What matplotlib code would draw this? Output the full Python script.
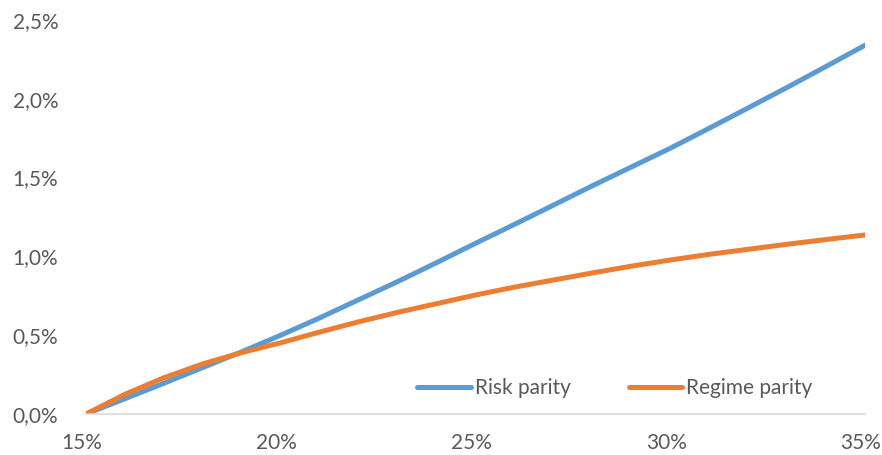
import matplotlib
matplotlib.use("Agg")
import matplotlib.pyplot as plt
from matplotlib.ticker import FuncFormatter
from matplotlib.transforms import ScaledTranslation

# volatility target (%) and expected excess return (%)
vol = [15, 16, 17, 18, 19, 20, 21, 22, 23, 24, 25, 26, 27, 28, 29, 30, 31, 32, 33, 34, 35]
risk_parity = [0.0, 0.097, 0.195, 0.295, 0.395, 0.50, 0.61, 0.725, 0.84, 0.96, 1.083,
               1.203, 1.325, 1.448, 1.567, 1.686, 1.813, 1.942, 2.072, 2.205, 2.34]
regime_parity = [0.0, 0.125, 0.23, 0.318, 0.39, 0.452, 0.52, 0.585, 0.645, 0.70, 0.755,
                 0.805, 0.85, 0.895, 0.938, 0.977, 1.013, 1.045, 1.077, 1.107, 1.136]

plt.rcParams["font.family"] = ["Lato", "DejaVu Sans"]

fig = plt.figure(figsize=(8.82, 4.55), dpi=100)
ax = fig.add_axes([0.0975, 0.0901, 0.8832, 0.866])

ax.plot(vol, risk_parity, color="#5B9BD5", lw=3.6, solid_capstyle="round",
        solid_joinstyle="round", label="Risk parity")
ax.plot(vol, regime_parity, color="#ED7D31", lw=3.6, solid_capstyle="round",
        solid_joinstyle="round", label="Regime parity")

ax.set_xlim(15, 35)
ax.set_ylim(0, 2.5)
ax.set_xticks([15, 20, 25, 30, 35])
ax.set_yticks([0, 0.5, 1.0, 1.5, 2.0, 2.5])
ax.xaxis.set_major_formatter(FuncFormatter(lambda v, p: f"{v:.0f}%"))
ax.yaxis.set_major_formatter(FuncFormatter(lambda v, p: f"{v:.1f}%".replace(".", ",")))

for s in ["top", "right", "left"]:
    ax.spines[s].set_visible(False)
ax.spines["bottom"].set_color("#D9D9D9")
ax.spines["bottom"].set_linewidth(1.2)
ax.tick_params(axis="both", length=0, labelsize=15, colors="#595959")
ax.tick_params(axis="x", pad=14)
ax.tick_params(axis="y", pad=20)

# excel draws the x labels a touch left of the ticks
shift = ScaledTranslation(-4 / 100, 0, fig.dpi_scale_trans)
for lbl in ax.get_xticklabels():
    lbl.set_transform(lbl.get_transform() + shift)

leg = ax.legend(loc="center", bbox_to_anchor=(0.679, 0.066), ncol=2, frameon=False,
                fontsize=15, handlelength=2.55, handletextpad=0.2, columnspacing=2.8,
                borderpad=0, borderaxespad=0)
for t in leg.get_texts():
    t.set_color("#595959")

fig.savefig("out.png", dpi=100)
